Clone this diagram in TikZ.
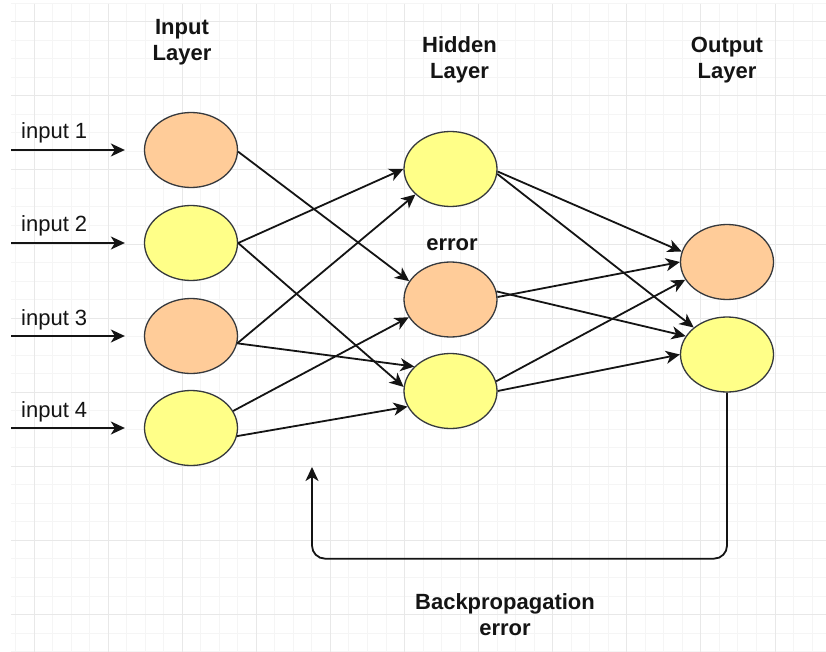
\documentclass[tikz,border=0pt]{standalone}
\usepackage{fontspec}
\setmainfont{Liberation Sans}
\usetikzlibrary{shapes.geometric,arrows.meta}
\definecolor{gridminor}{HTML}{F5F5F5}
\definecolor{gridmajor}{HTML}{E8E8E8}
\definecolor{peach}{HTML}{FFCC99}
\definecolor{lemon}{HTML}{FFFF88}
\definecolor{rim}{HTML}{36393D}
\definecolor{ink}{HTML}{141414}
\begin{document}
\begin{tikzpicture}[x=1pt,y=-1pt,
  neuron/.style={ellipse, draw=rim, line width=1.3pt, minimum width=93pt,
    minimum height=75pt, inner sep=0pt},
  link/.style={draw=ink, line width=1.8pt,
    -{Stealth[length=14pt,width=13pt,inset=4pt]}},
  plain/.style={font=\fontsize{22}{26}\selectfont, text=ink, inner sep=0pt},
  heading/.style={font=\bfseries\fontsize{22}{26}\selectfont, text=ink,
    inner sep=0pt, align=center}]

% canvas
\fill[white] (0,0) rectangle (826,652);
\useasboundingbox (0,0) rectangle (826,652);

% background grid
\begin{scope}
  \clip (11,4) rectangle (826,652);
  \foreach \k in {0,...,44}
    \draw[gridminor, line width=1pt] ({15.5+18.525*\k},4) -- ++(0,648);
  \foreach \k in {0,...,35}
    \draw[gridminor, line width=1pt] (11,{3.2+18.525*\k}) -- ++(815,0);
  \foreach \k in {0,...,10}
    \draw[gridmajor, line width=1pt] ({34+74.1*\k},4) -- ++(0,648);
  \foreach \k in {0,...,8}
    \draw[gridmajor, line width=1pt] (11,{21.7+74.1*\k}) -- ++(815,0);
\end{scope}

% layer titles (anchored on the baseline of their last line)
\node[heading, anchor=base] (tin)  at (182,61)   {Input\\Layer};
\node[heading, anchor=base] (thid) at (459.5,79) {Hidden\\Layer};
\node[heading, anchor=base] (tout) at (727,79)   {Output\\Layer};

% neurons
\node[neuron, fill=peach] (i1) at (191,150) {};
\node[neuron, fill=lemon] (i2) at (191,243) {};
\node[neuron, fill=peach] (i3) at (191,336) {};
\node[neuron, fill=lemon] (i4) at (191,428) {};

\node[neuron, fill=lemon] (h1) at (450.5,169)   {};
\node[neuron, fill=peach] (h2) at (450.5,299.5) {};
\node[neuron, fill=lemon] (h3) at (450.5,391)   {};

\node[neuron, fill=peach] (o1) at (727,262)   {};
\node[neuron, fill=lemon] (o2) at (727,354.5) {};

\node[heading, anchor=base] (err) at (452,251) {error};

% inputs
\coordinate (s1) at (11,150);
\coordinate (s2) at (11,243);
\coordinate (s3) at (11,336);
\coordinate (s4) at (11,428);
\foreach \n in {1,...,4}
  \draw[link, shorten >=19pt] (s\n) -- (i\n.west);
\node[plain, anchor=base west] (l1) at (21,139) {input 1};
\node[plain, anchor=base west] (l2) at (21,232) {input 2};
\node[plain, anchor=base west] (l3) at (21,325) {input 3};
\node[plain, anchor=base west] (l4) at (21,417) {input 4};

% input layer to hidden layer
\draw[link] (i1.-2)  -- (h2.156);
\draw[link] (i2.0)   -- (h1.180);
\draw[link] (i2.0)   -- (h3.175);
\draw[link] (i3.-9)  -- (h1.216);
\draw[link] (i3.-9)  -- (h3.146);
\draw[link] (i4.22)  -- (h2.203);
\draw[link] (i4.-10) -- (h3.200);

% hidden layer to output layer
\draw[link] (h1.-3) -- (o1.167);
\draw[link] (h1.-6) -- (o2.141);
\draw[link] (h2.10) -- (o2.156);
\draw[link] (h2.3)  -- (o1.180);
\draw[link] (h3.12) -- (o1.203);
\draw[link] (h3.0)  -- (o2.180);

% error fed back
\coordinate (fb) at (312,467);
\draw[link, rounded corners=13pt] (o2.south) -- ++(0,166) -| (fb);
\node[heading, anchor=base] (bp) at (505,635) {Backpropagation\\error};

\end{tikzpicture}
\end{document}
